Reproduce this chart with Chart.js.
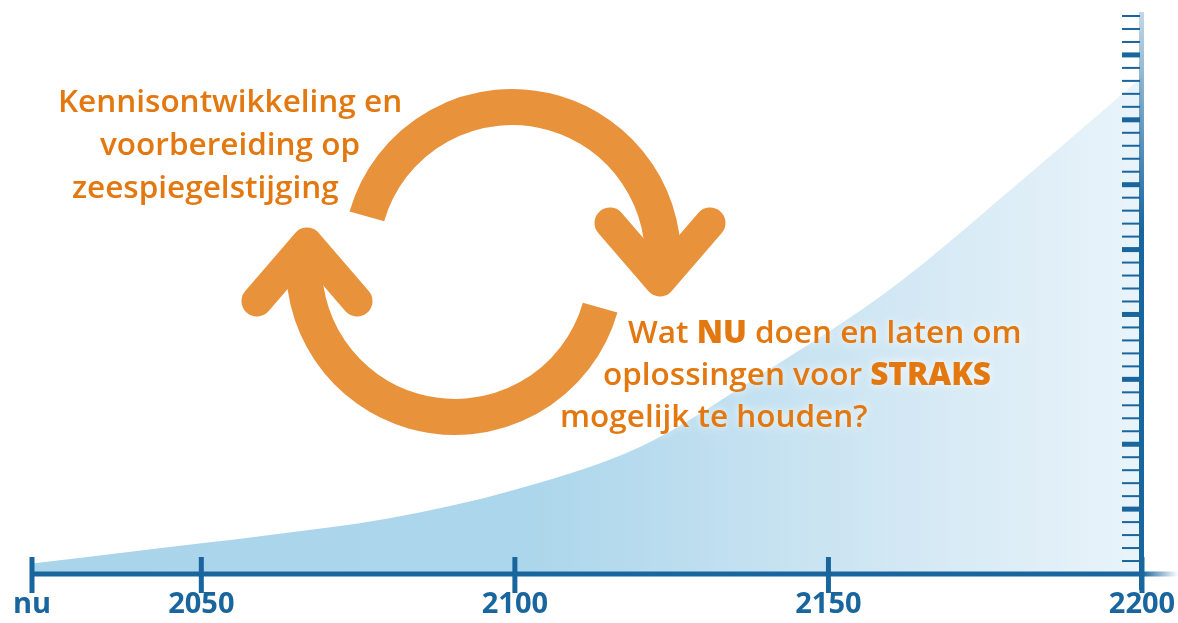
<!DOCTYPE html>
<html>
<head>
<meta charset="utf-8">
<script src="https://cdn.jsdelivr.net/npm/chart.js@4"></script>
<style>
  html, body { margin: 0; padding: 0; background: #fff; }
  #wrap { width: 1178px; height: 623px; }
</style>
</head>
<body>
<div id="wrap"><canvas id="zeespiegel"></canvas></div>
<script>
// zeespiegel curve (ladder units, 1 unit = 1 step on the right scale)
const years = [2023, 2040, 2060, 2080, 2100, 2120, 2140, 2160, 2180, 2200]
const level = [0.8, 1.8, 2.95, 4.3, 6.5, 9.8, 15.6, 22, 30, 38.3]
const xTicks = [2023, 2050, 2100, 2150, 2200]
const xTickLabels = ['nu', '2050', '2100', '2150', '2200']
const ladderMax = 43
const ladderMajor = 5

const BLUE = '#19669e'
const ORANGE_TEXT = '#e2780f'
const ORANGE_ARROW = '#e8923c'

const textBlocks = [
    [[{ t: 'Kennisontwikkeling en' }], [{ t: 'voorbereiding op' }], [{ t: 'zeespiegelstijging' }]],
    [[{ t: 'Wat ' }, { t: 'NU', b: true }, { t: ' doen en laten om' }],
     [{ t: 'oplossingen voor ' }, { t: 'STRAKS', b: true }],
     [{ t: 'mogelijk te houden?' }]]
]
const textPlaces = [
    [[58, 112], [100, 155], [72, 198]],
    [[628, 343], [603, 385], [560, 427]]
]

const decor = {
    id: 'decor',
    afterDatasetsDraw(chart) {
        const c = chart.ctx
        const xs = chart.scales.x, ys = chart.scales.y
        const y0 = ys.getPixelForValue(0)
        const xl = xs.getPixelForValue(2023)
        const xr = xs.getPixelForValue(2200)
        c.save()

        // bottom axis with fade out to the right
        c.fillStyle = BLUE
        c.fillRect(xl - 2, y0 - 2.5, xr - xl + 4, 5)
        let g = c.createLinearGradient(xr, 0, xr + 36, 0)
        g.addColorStop(0, BLUE)
        g.addColorStop(1, 'rgba(25,102,158,0)')
        c.fillStyle = g
        c.fillRect(xr, y0 - 2.5, 36, 5)
        xTicks.forEach(v => {
            const px = xs.getPixelForValue(v)
            c.fillStyle = BLUE
            c.fillRect(px - 2.5, y0 - 17, 5, 36)
        })

        // right ladder
        g = c.createLinearGradient(0, 10, 0, 230)
        g.addColorStop(0, 'rgba(25,102,158,0.25)')
        g.addColorStop(1, BLUE)
        c.fillStyle = g
        c.fillRect(xr - 3, ys.getPixelForValue(ladderMax) - 4, 5, y0 + 16 - ys.getPixelForValue(ladderMax) + 4)
        for (let v = 1; v <= ladderMax; v++) {
            const py = ys.getPixelForValue(v)
            const major = v % ladderMajor === 0
            c.fillStyle = BLUE
            c.fillRect(xr - 20, py - (major ? 2.5 : 1), 18, major ? 5 : 2)
        }

        // cycle arrows
        c.strokeStyle = ORANGE_ARROW
        const arrow = (cx, cy, a0, a1, vx, vy, flip) => {
            c.lineWidth = 36
            c.lineCap = 'butt'
            c.beginPath()
            c.arc(cx, cy, 151, a0, a1)
            c.stroke()
            c.lineWidth = 31
            c.lineCap = 'round'
            c.lineJoin = 'round'
            const d = flip ? 1 : -1
            c.beginPath()
            c.moveTo(vx - 50, vy + d * 58)
            c.lineTo(vx, vy)
            c.lineTo(vx + 50, vy + d * 58)
            c.stroke()
        }
        const rad = Math.PI / 180
        arrow(512, 258, 196 * rad, 366 * rad, 660, 281, false)
        arrow(455, 266, 16 * rad, 186 * rad, 307, 243, true)

        // text
        textBlocks.forEach((lines, bi) => {
            lines.forEach((runs, li) => {
                let [x, y] = textPlaces[bi][li]
                runs.forEach(r => {
                    c.font = (r.b ? '800 ' : '600 ') + '31.5px "Open Sans"'
                    c.textBaseline = 'alphabetic'
                    c.shadowColor = 'rgba(255,255,255,0.95)'
                    c.shadowBlur = 8
                    c.fillStyle = ORANGE_TEXT
                    c.fillText(r.t, x, y)
                    x += c.measureText(r.t).width
                })
            })
        })
        c.restore()
    }
}

const ctx = document.getElementById('zeespiegel')
const myChart = new Chart(ctx, {
    type: 'line',
    data: {
        datasets: [{
            data: years.map((y, i) => ({ x: y, y: level[i] })),
            fill: 'origin',
            borderWidth: 0,
            pointRadius: 0,
            cubicInterpolationMode: 'monotone',
            backgroundColor: (c) => {
                const area = c.chart.chartArea
                if (!area) return '#add6eb'
                const g = c.chart.ctx.createLinearGradient(area.left, 0, area.right, 0)
                g.addColorStop(0, '#a9d4ea')
                g.addColorStop(0.45, '#acd6eb')
                g.addColorStop(0.75, '#cfe6f3')
                g.addColorStop(1, '#e9f4fa')
                return g
            }
        }]
    },
    options: {
        responsive: true,
        maintainAspectRatio: false,
        animation: false,
        layout: { padding: { left: 32, right: 36, top: 16, bottom: 0 } },
        plugins: { legend: { display: false }, tooltip: { enabled: false } },
        scales: {
            x: {
                type: 'linear',
                min: 2023,
                max: 2200,
                afterBuildTicks: s => { s.ticks = xTicks.map(v => ({ value: v })) },
                afterFit: s => { s.height = 49; s.paddingLeft = 0; s.paddingRight = 0 },
                grid: { display: false, drawTicks: false },
                border: { display: false },
                ticks: {
                    autoSkip: false,
                    maxRotation: 0,
                    padding: 13,
                    color: BLUE,
                    font: { family: 'Open Sans', size: 29, weight: 'bold' },
                    callback: (v) => xTickLabels[xTicks.indexOf(v)]
                }
            },
            y: {
                display: false,
                min: 0,
                max: ladderMax
            }
        }
    },
    plugins: [decor]
})
</script>
</body>
</html>
